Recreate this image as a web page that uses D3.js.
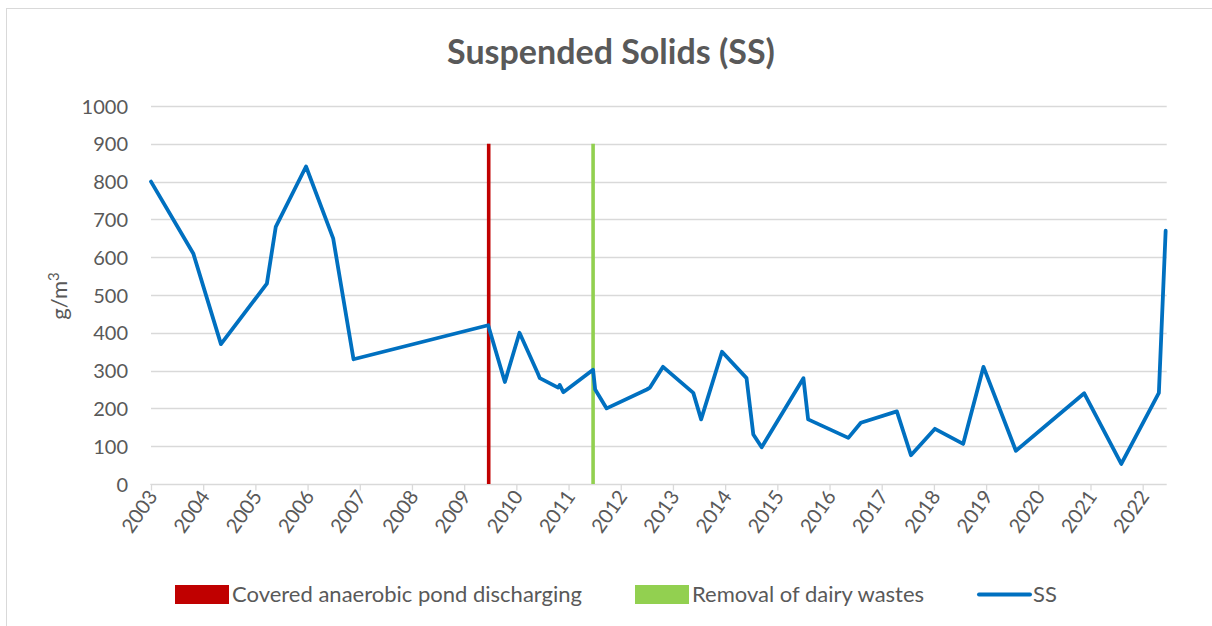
<!DOCTYPE html>
<html>
<head>
<meta charset="utf-8">
<script src="https://cdn.jsdelivr.net/npm/d3@7"></script>
<style>
  html, body { margin: 0; padding: 0; background: #fff; }
  svg { display: block; }
  text { font-family: Lato, "Open Sans", sans-serif; fill: #595959; }
</style>
</head>
<body>
<svg id="chart" width="1212" height="626"></svg>
<script>
// ---- data (decimal year, g/m3) ----
const dates = [2003.00, 2003.81, 2004.34, 2005.22, 2005.39, 2005.97, 2006.49, 2006.88,
  2009.46, 2009.78, 2010.06, 2010.41, 2010.45, 2010.80, 2010.83, 2010.90,
  2011.47, 2011.51, 2011.73, 2012.50, 2012.56, 2012.81, 2013.39, 2013.54,
  2013.94, 2014.41, 2014.54, 2014.70, 2015.50, 2015.59, 2016.36, 2016.60,
  2017.29, 2017.56, 2018.02, 2018.56, 2018.95, 2019.57, 2020.88, 2021.59,
  2022.31, 2022.44];
const ssValues = [800, 610, 370, 530, 680, 840, 650, 330,
  420, 270, 400, 293, 280, 255, 262, 243,
  302, 250, 200, 250, 255, 310, 241, 171,
  350, 280, 131, 97, 280, 171, 122, 162,
  192, 76, 146, 106, 310, 88, 240, 53,
  241, 670];
const eventNames = ["Covered anaerobic pond discharging", "Removal of dairy wastes"];
const eventDates = [2009.47, 2011.47];
const eventTop = [900, 900];
const eventColors = ["#C00000", "#92D050"];
const yearTicks = d3.range(2003, 2023);
const yTicks = d3.range(0, 1001, 100);
const titleText = "Suspended Solids (SS)";
const seriesName = "SS";

// ---- layout ----
const svg = d3.select("#chart");
const x = d3.scaleLinear().domain([2003, 2022.46]).range([151, 1166.7]);
const y = d3.scaleLinear().domain([0, 1000]).range([484, 106]);

// chart border
svg.append("rect").attr("x", 6.5).attr("y", 8.5).attr("width", 1230).attr("height", 640)
  .attr("fill", "#fff").attr("stroke", "#D9D9D9").attr("stroke-width", 1);

// title
svg.append("text").attr("x", 611).attr("y", 64).attr("text-anchor", "middle")
  .style("font-size", "34px").style("font-weight", "bold").text(titleText);

// gridlines
svg.append("g").selectAll("line").data(yTicks.filter(d => d > 0)).join("line")
  .attr("x1", x.range()[0]).attr("x2", x.range()[1])
  .attr("y1", d => Math.round(y(d)) + 0.5).attr("y2", d => Math.round(y(d)) + 0.5)
  .attr("stroke", "#D9D9D9").attr("stroke-width", 1.3);

// y axis labels
const yAxis = d3.axisLeft(y).tickValues(yTicks).tickSize(0).tickPadding(0).tickFormat(d3.format("d"));
const gy = svg.append("g").attr("transform", "translate(128,0)").call(yAxis);
gy.select(".domain").remove();
gy.selectAll("text").style("font-size", "20px").attr("fill", "#595959")
  .style("font-family", "Lato, sans-serif").attr("dy", "0.35em");

// x axis
const xAxis = d3.axisBottom(x).tickValues(yearTicks).tickSize(6).tickFormat(d3.format("d"));
const gx = svg.append("g").attr("transform", "translate(0,484.5)").call(xAxis);
gx.select(".domain").attr("stroke", "#D9D9D9").attr("stroke-width", 1.3)
  .attr("d", `M${x.range()[0]},0.5V0H${x.range()[1]}`);
gx.selectAll(".tick line").attr("stroke", "#D9D9D9").attr("stroke-width", 1.3);
gx.selectAll(".tick text").style("font-size", "20px").attr("fill", "#595959")
  .style("font-family", "Lato, sans-serif")
  .attr("text-anchor", "end").attr("dy", 0).attr("y", 0)
  .attr("transform", "translate(7,12) rotate(-55)");

// y axis title
svg.append("text").attr("transform", "translate(67,296) rotate(-90)")
  .attr("text-anchor", "middle").style("font-size", "22px")
  .call(t => { t.append("tspan").text("g/m"); t.append("tspan").attr("dy", -8).style("font-size", "15px").text("3"); });

// event lines
svg.append("g").selectAll("line").data(eventDates).join("line")
  .attr("x1", d => x(d)).attr("x2", d => x(d))
  .attr("y1", (d, i) => y(eventTop[i])).attr("y2", y(0))
  .attr("stroke", (d, i) => eventColors[i]).attr("stroke-width", 3.6);

// SS line
const pts = dates.map((d, i) => [d, ssValues[i]]);
svg.append("path").datum(pts)
  .attr("d", d3.line().x(d => x(d[0])).y(d => y(d[1])))
  .attr("fill", "none").attr("stroke", "#0070C0").attr("stroke-width", 3.8)
  .attr("stroke-linejoin", "round").attr("stroke-linecap", "round");

// legend
const lg = svg.append("g");
const legendX = [175, 635, 979];
eventNames.forEach((n, i) => {
  lg.append("rect").attr("x", legendX[i]).attr("y", 585).attr("width", 54).attr("height", 19)
    .attr("fill", eventColors[i]);
  lg.append("text").attr("x", legendX[i] + 57).attr("y", 602).style("font-size", "22px").text(n);
});
lg.append("line").attr("x1", legendX[2]).attr("x2", legendX[2] + 51).attr("y1", 594.5).attr("y2", 594.5)
  .attr("stroke", "#0070C0").attr("stroke-width", 4).attr("stroke-linecap", "round");
lg.append("text").attr("x", legendX[2] + 54).attr("y", 602).style("font-size", "22px").text(seriesName);
</script>
</body>
</html>
